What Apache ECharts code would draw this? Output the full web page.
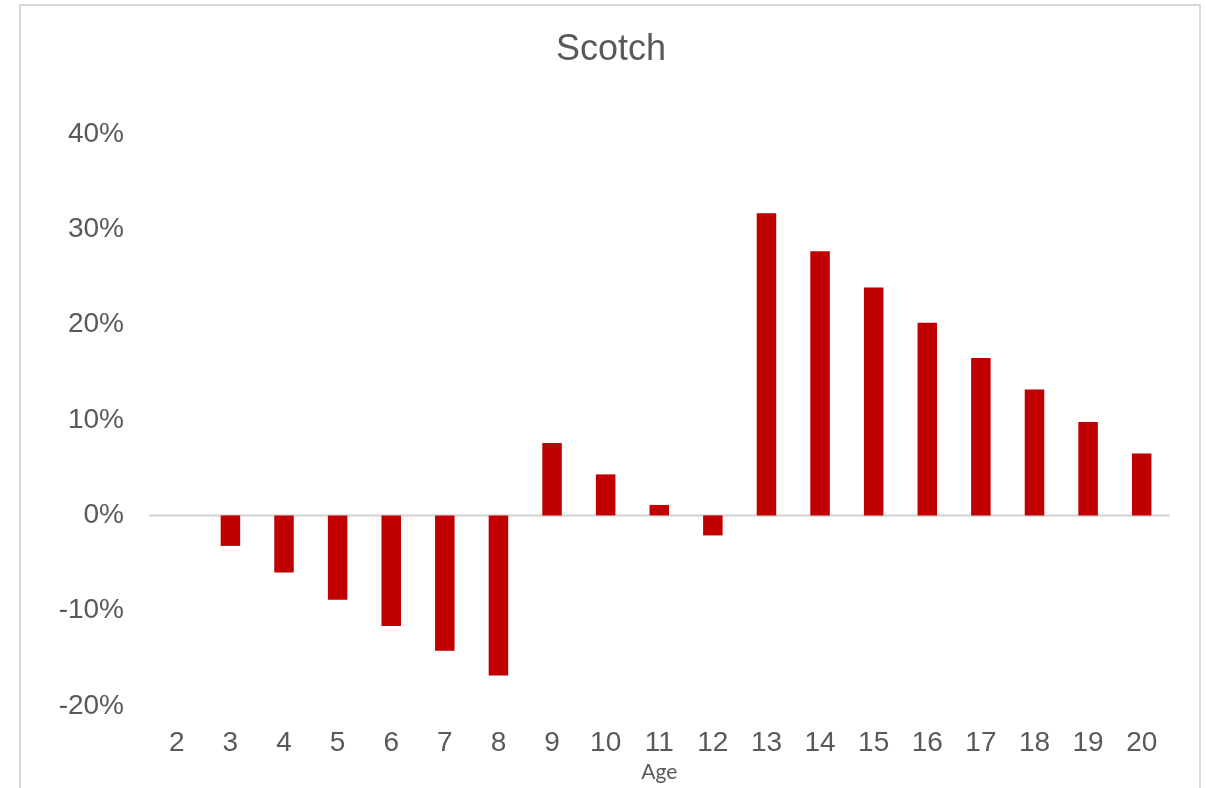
<!DOCTYPE html>
<html>
<head>
<meta charset="utf-8">
<title>Scotch</title>
<script src="https://cdn.jsdelivr.net/npm/echarts@6/dist/echarts.min.js"></script>
<style>
  html, body { margin: 0; padding: 0; background: #ffffff; }
  #chart { width: 1206px; height: 788px; }
</style>
</head>
<body>
<div id="chart"></div>
<script>
// Age categories along the x axis
const ages = ['2', '3', '4', '5', '6', '7', '8', '9', '10', '11', '12', '13', '14', '15', '16', '17', '18', '19', '20'];

// Percentage value for each age (in %)
const values = [0, -3.2, -6.0, -8.85, -11.6, -14.2, -16.8, 7.6, 4.3, 1.1, -2.1, 31.7, 27.7, 23.9, 20.2, 16.5, 13.2, 9.8, 6.5];

// Value axis range and step (in %)
const yMin = -20;
const yMax = 40;
const yStep = 10;

const textColor = '#595959';
const lineColor = '#d9d9d9';
const fontStack = '"Liberation Sans", Arial, sans-serif';

const chart = echarts.init(document.getElementById('chart'), null, { renderer: 'canvas' });

chart.setOption({
  backgroundColor: '#ffffff',
  animation: false,
  title: {
    text: 'Scotch',
    left: 606,
    top: 27,
    textAlign: 'center',
    textStyle: { fontFamily: fontStack, fontSize: 36, fontWeight: 'normal', color: textColor }
  },
  graphic: [{
    type: 'rect',
    silent: true,
    z: -1,
    shape: { x: 20, y: 5, width: 1180, height: 800 },
    style: { fill: 'none', stroke: lineColor, lineWidth: 2 }
  }],
  grid: { left: 150, right: 37.5, top: 134, bottom: 80.5, containLabel: false },
  xAxis: [{
    // zero baseline
    type: 'category',
    data: ages,
    position: 'bottom',
    axisLine: { show: true, onZero: true, lineStyle: { color: lineColor, width: 2.5 } },
    axisTick: { show: false },
    axisLabel: { show: false },
    splitLine: { show: false }
  }, {
    // category labels along the bottom edge
    type: 'category',
    data: ages,
    position: 'bottom',
    name: 'Age',
    nameLocation: 'middle',
    nameGap: 55,
    nameTextStyle: { fontFamily: 'Lato, "Open Sans", sans-serif', fontSize: 21, color: textColor },
    axisLine: { show: false, onZero: false },
    axisTick: { show: false },
    axisLabel: { margin: 23, fontFamily: fontStack, fontSize: 28, color: textColor },
    splitLine: { show: false }
  }],
  yAxis: {
    type: 'value',
    min: yMin,
    max: yMax,
    interval: yStep,
    axisLine: { show: false },
    axisTick: { show: false },
    splitLine: { show: false },
    axisLabel: {
      margin: 26,
      padding: [4, 0, 0, 0],
      fontFamily: fontStack,
      fontSize: 28,
      color: textColor,
      formatter: '{value}%'
    }
  },
  series: [{
    type: 'bar',
    xAxisIndex: 0,
    data: values,
    barWidth: 19.5,
    itemStyle: { color: '#c00000' }
  }]
});
</script>
</body>
</html>
